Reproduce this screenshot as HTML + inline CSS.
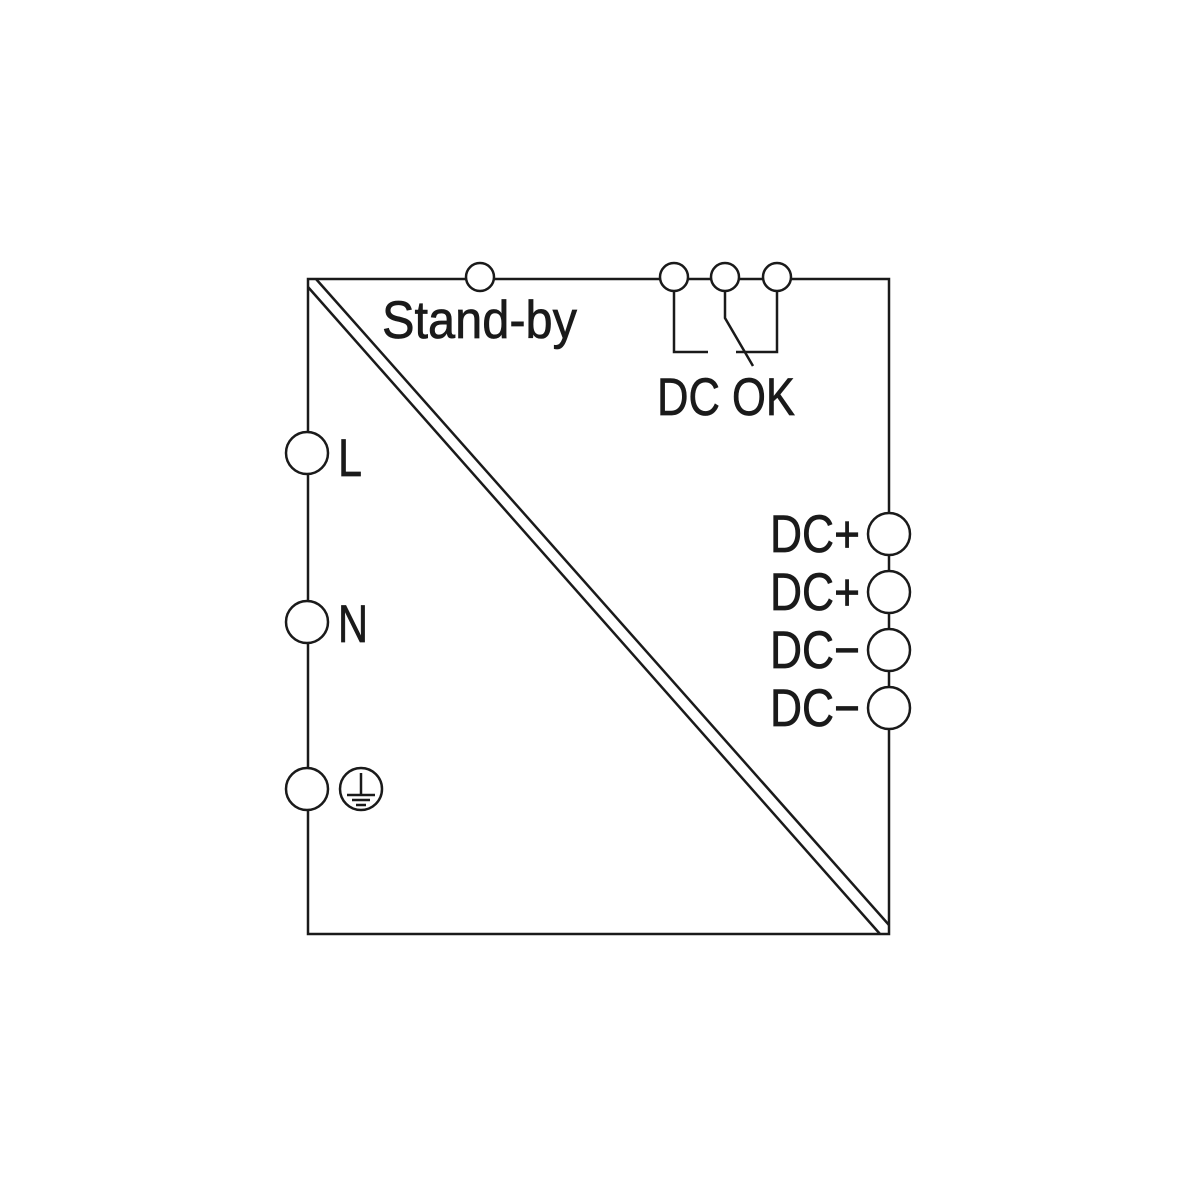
<!DOCTYPE html>
<html><head><meta charset="utf-8"><style>html,body{margin:0;padding:0;background:#fff}svg{display:block}</style></head>
<body>
<svg width="1200" height="1200" viewBox="0 0 1200 1200" xmlns="http://www.w3.org/2000/svg">
<g fill="none" stroke="#1a1a1a" stroke-width="2.5">
<rect x="308" y="279" width="581" height="655"/>
<line x1="308" y1="287" x2="880" y2="934"/>
<line x1="316" y1="279" x2="889" y2="925"/>
<polyline points="674,290 674,352 708,352"/>
<polyline points="725,290 725,318 753,366"/>
<polyline points="777,290 777,352 736,352"/>
</g>
<g fill="#fff" stroke="#1a1a1a" stroke-width="2.5">
<circle cx="480" cy="277" r="14"/>
<circle cx="674" cy="277" r="14"/>
<circle cx="725" cy="277" r="14"/>
<circle cx="777" cy="277" r="14"/>
<circle cx="307" cy="453" r="21"/>
<circle cx="307" cy="622" r="21"/>
<circle cx="307" cy="789" r="21"/>
<circle cx="889" cy="534" r="21"/>
<circle cx="889" cy="592" r="21"/>
<circle cx="889" cy="650" r="21"/>
<circle cx="889" cy="708" r="21"/>
<circle cx="361" cy="789" r="21"/>
</g>
<g stroke="#1a1a1a" stroke-width="2.5">
<line x1="361" y1="773" x2="361" y2="795"/>
<line x1="347" y1="795" x2="375" y2="795"/>
<line x1="352" y1="800" x2="370" y2="800"/>
<line x1="356" y1="805" x2="366" y2="805"/>
</g>
<g font-family="Liberation Sans, sans-serif" font-size="53" fill="#1a1a1a" stroke="#1a1a1a" stroke-width="0.7">
<text x="382" y="338" textLength="195" lengthAdjust="spacingAndGlyphs">Stand-by</text>
<text x="657" y="415" textLength="138" lengthAdjust="spacingAndGlyphs">DC OK</text>
<text x="338" y="476" textLength="24" lengthAdjust="spacingAndGlyphs">L</text>
<text x="338" y="642" textLength="30" lengthAdjust="spacingAndGlyphs">N</text>
<text x="770" y="552" textLength="90" lengthAdjust="spacingAndGlyphs">DC+</text>
<text x="770" y="610" textLength="90" lengthAdjust="spacingAndGlyphs">DC+</text>
<text x="770" y="668" textLength="90" lengthAdjust="spacingAndGlyphs">DC−</text>
<text x="770" y="726" textLength="90" lengthAdjust="spacingAndGlyphs">DC−</text>
</g>
</svg>
</body></html>
